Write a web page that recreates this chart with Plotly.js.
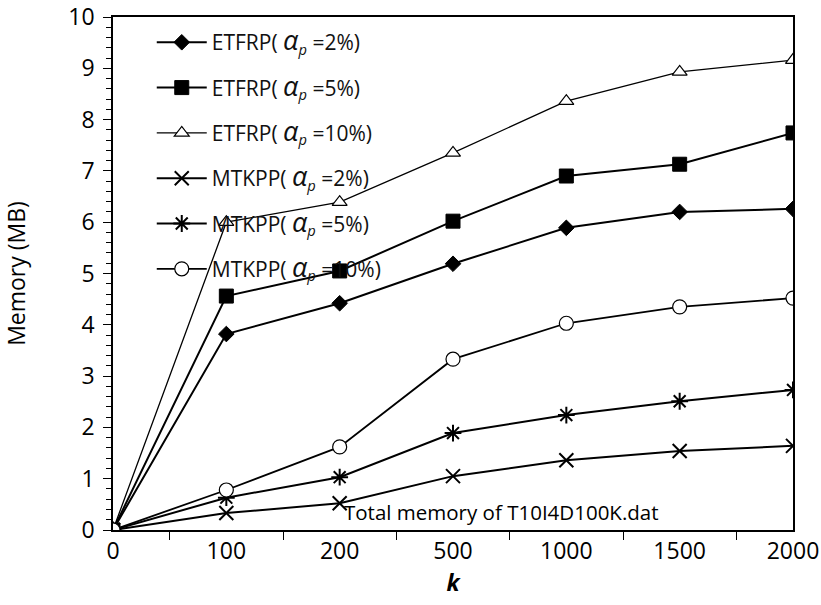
<!DOCTYPE html>
<html>
<head>
<meta charset="utf-8">
<script src="https://cdn.plot.ly/plotly-3.0.1.min.js"></script>
<style>html,body{margin:0;padding:0;background:#fff;}</style>
</head>
<body>
<div id="chart" style="width:821px;height:605px;"></div>
<script>
const categories = ["0", "100", "200", "500", "1000", "1500", "2000"];
const etfrp2  = [0, 3.82, 4.42, 5.19, 5.89, 6.20, 6.26];
const etfrp5  = [0, 4.56, 5.05, 6.02, 6.90, 7.13, 7.74];
const etfrp10 = [0, 6.00, 6.39, 7.35, 8.36, 8.93, 9.16];
const mtkpp2  = [0, 0.33, 0.52, 1.05, 1.36, 1.54, 1.64];
const mtkpp5  = [0, 0.63, 1.03, 1.89, 2.24, 2.51, 2.73];
const mtkpp10 = [0, 0.78, 1.62, 3.33, 4.03, 4.35, 4.52];
const alphaP = "<span style=\"font-size:27px\"><i>α</i></span><sub><i>p</i></sub>";
const seriesNames = [
  "ETFRP( " + alphaP + " =2%)",
  "ETFRP( " + alphaP + " =5%)",
  "ETFRP( " + alphaP + " =10%)",
  "MTKPP( " + alphaP + " =2%)",
  "MTKPP( " + alphaP + " =5%)",
  "MTKPP( " + alphaP + " =10%)"
];
const yTickVals = [0,1,2,3,4,5,6,7,8,9,10];

function tr(y, name, symbol, size, fill, lw, mlw, g) {
  return {
    x: categories, y: y, name: name, type: "scatter", mode: "lines+markers",
    legendgroup: g,
    line: {color: "#000", width: lw},
    marker: {symbol: symbol, size: size, color: fill, line: {color: "#000", width: mlw}}
  };
}
const data = [
  tr(etfrp2, seriesNames[0], "diamond", 12, "#000", 2, 1, "a"),
  tr(etfrp5, seriesNames[1], "square", 14, "#000", 2, 1, "b"),
  tr(etfrp10, seriesNames[2], "triangle-up", 13, "#fff", 1.3, 1.2, "c"),
  tr(mtkpp2, seriesNames[3], "x-thin-open", 14, "#000", 2, 2, "d"),
  tr(mtkpp5, seriesNames[4], "asterisk-open", 14, "#000", 2, 2, "e"),
  tr(mtkpp10, seriesNames[5], "circle", 14, "#fff", 1.8, 1.2, "f")
];
const font = "Open Sans, Liberation Sans, sans-serif";
const layout = {
  width: 821, height: 605,
  margin: {l: 113, r: 28, t: 17, b: 75},
  paper_bgcolor: "#fff", plot_bgcolor: "#fff",
  font: {family: font, color: "#000", size: 21},
  showlegend: true,
  legend: {
    x: 0.057, y: 0.99, xanchor: "left", yanchor: "top",
    bgcolor: "rgba(0,0,0,0)", font: {family: font, size: 21, color: "#111"},
    tracegroupgap: 15, itemwidth: 50
  },
  xaxis: {
    type: "category", range: [0, 6],
    showgrid: false, zeroline: false,
    showline: true, linecolor: "#000", linewidth: 1.5, mirror: true,
    ticks: "outside", tickson: "boundaries", ticklen: 8, tickcolor: "#000",
    tickfont: {family: font, size: 23},
    title: {text: "<b><i>k</i></b>", font: {family: font, size: 23}, standoff: 8}
  },
  yaxis: {
    range: [0, 10], tickvals: yTickVals,
    showgrid: false, zeroline: false,
    showline: true, linecolor: "#000", linewidth: 1.5, mirror: true,
    ticks: "outside", ticklen: 8, tickcolor: "#000",
    ticklabelstandoff: 4, ticklabeloverflow: "allow",
    minor: {dtick: 0.2, ticks: "outside", ticklen: 5, tickcolor: "#000", showgrid: false},
    tickfont: {family: font, size: 23},
    title: {text: "Memory (MB)", font: {family: font, size: 23}, standoff: 40}
  },
  annotations: [{
    xref: "paper", yref: "paper", x: 0.572, y: 0.035, xanchor: "center", yanchor: "middle",
    text: "Total memory of T10I4D100K.dat", showarrow: false,
    font: {family: font, size: 20.5, color: "#000"}
  }]
};
Plotly.newPlot("chart", data, layout, {displayModeBar: false});
</script>
</body>
</html>
